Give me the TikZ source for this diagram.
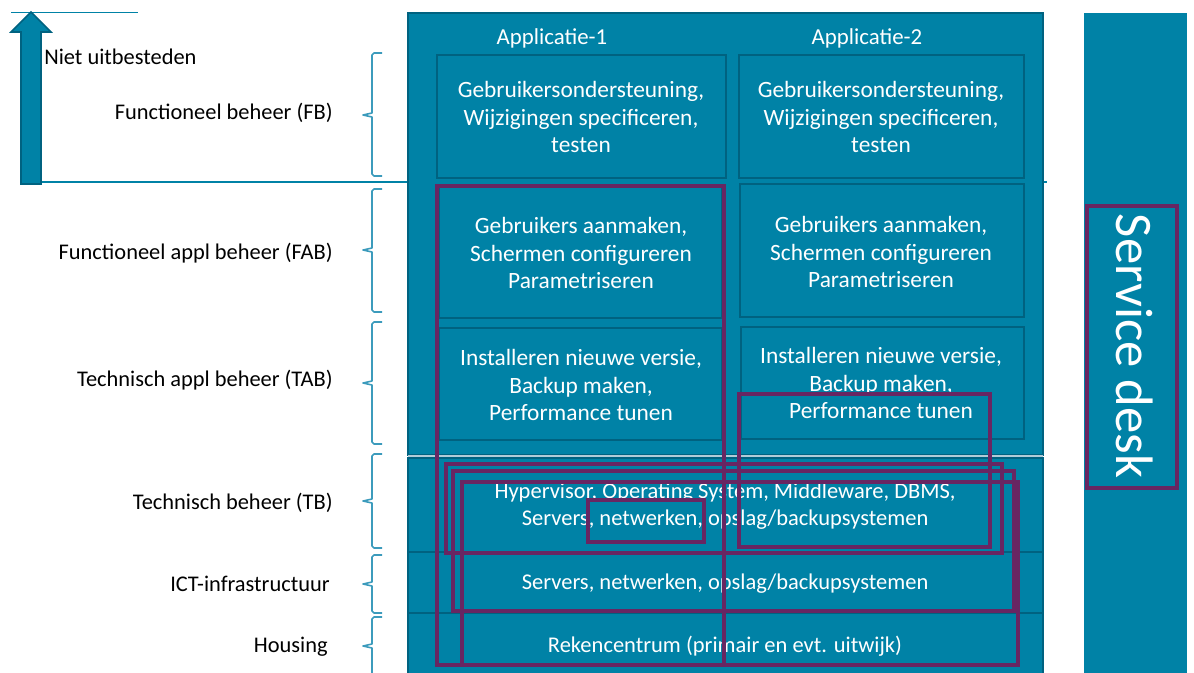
\documentclass[tikz,border=0pt]{standalone}
\usepackage{fontspec}
\setmainfont{Carlito}
\definecolor{tealf}{RGB}{0,130,166}
\definecolor{tealdk}{RGB}{0,98,128}
\definecolor{paars}{RGB}{104,38,98}
\definecolor{brc}{RGB}{60,155,188}
\definecolor{sepl}{RGB}{176,204,216}
\begin{document}
\begin{tikzpicture}[x=0.02cm,y=-0.02cm]
\tikzstyle{lbl}=[font=\fontsize{12.75}{15.9}\selectfont,inner sep=0pt]
\tikzstyle{txt}=[font=\fontsize{13.3}{15.9}\selectfont,text=white,align=center,inner sep=0pt]
\tikzstyle{rijtxt}=[txt,font=\fontsize{12.8}{15.4}\selectfont]
\tikzstyle{cel}=[draw=tealdk,line width=1.1pt]
\tikzstyle{rij}=[fill=tealf,draw=tealdk,line width=1.1pt]
\tikzstyle{pb}=[draw=paars,line width=2.7pt]
\tikzstyle{acc}=[draw=brc,line width=0.9pt,line join=round]
\useasboundingbox (0,0) rectangle (1194,673);
\draw[tealf,line width=0.8pt] (11,12.5) -- (138,12.5);
\draw[tealf,line width=0.8pt] (41,182) -- (1047,182);
\draw[fill=tealf,draw=tealdk,line width=0.9pt] (21,184) -- (21,32) -- (11,32) -- (31,12) -- (51,32) -- (41,32) -- (41,184) -- cycle;
\node[lbl,anchor=west] (niet) at (44,57) {Niet uitbesteden};
\node[lbl,anchor=east] (fb) at (333,113) {Functioneel beheer (FB)};
\node[lbl,anchor=east] (fab) at (333,253) {Functioneel appl beheer (FAB)};
\node[lbl,anchor=east] (tab) at (333,380) {Technisch appl beheer (TAB)};
\node[lbl,anchor=east] (tb) at (333,503) {Technisch beheer (TB)};
\node[lbl,anchor=east] (ict) at (330,584) {ICT-infrastructuur};
\node[lbl,anchor=east] (hs) at (328,647) {Housing};
\foreach \ya/\ym/\yb in {53/115/176, 189/250/312, 322/383/444, 454/501/548, 555/584/613, 617/646/675}
  \draw[acc] (382,\ya) -- (374,\ya) -- (372,\ya+2) -- (372,\ym-2) -- (363,\ym) -- (372,\ym+2) -- (372,\yb-2) -- (374,\yb) -- (382,\yb);
\draw[rij] (408,13) rectangle (1043,455);
\draw[sepl,line width=1.2pt] (408,456.5) -- (1043,456.5);
\draw[rij] (408,458) rectangle (1043,552);
\draw[rij] (408,552) rectangle (1043,613);
\draw[rij] (408,613) rectangle (1043,680);
\node[txt,font=\fontsize{13}{15.9}\selectfont] (app1) at (552,38) {Applicatie-1};
\node[txt,font=\fontsize{13}{15.9}\selectfont] (app2) at (867,38) {Applicatie-2};
\draw[cel] (437,55) rectangle (726,178);
\draw[cel] (739,55) rectangle (1024,178);
\draw[cel] (439,185) rectangle (722,318);
\draw[cel] (740,184) rectangle (1024,317);
\draw[cel] (439,328) rectangle (722,440);
\draw[cel] (741,327) rectangle (1024,439);
\node[txt] (fb1) at (581,117) {Gebruikersondersteuning,\\Wijzigingen specificeren,\\testen};
\node[txt] (fb2) at (881,117) {Gebruikersondersteuning,\\Wijzigingen specificeren,\\testen};
\node[txt] (fab1) at (581,253) {Gebruikers aanmaken,\\Schermen configureren\\Parametriseren};
\node[txt] (fab2) at (881,252) {Gebruikers aanmaken,\\Schermen configureren\\Parametriseren};
\node[txt] (tab1) at (581,385) {Installeren nieuwe versie,\\Backup maken,\\Performance tunen};
\node[txt] (tab2) at (881,383) {Installeren nieuwe versie,\\Backup maken,\\Performance tunen};
\node[rijtxt] (tb1) at (725,506) {Hypervisor, Operating System, Middleware, DBMS,\\Servers, netwerken, opslag/backupsystemen};
\node[rijtxt] (ict1) at (725,584) {Servers, netwerken, opslag/backupsystemen};
\node[rijtxt] (hs1) at (725,646) {Rekencentrum (primair en evt. uitwijk)};
\draw[pb] (437,186) rectangle (724,665);
\draw[pb] (739,394) rectangle (990,547);
\draw[pb] (446,464) rectangle (1002,553);
\draw[pb] (453,471) rectangle (1014,611);
\draw[pb] (462,482) rectangle (1018,665);
\draw[pb] (588,500) rectangle (704,542);
\fill[tealf] (1084,13) rectangle (1187,680);
\node[txt,font=\fontsize{30}{36}\selectfont,rotate=-90] (sd) at (1135,346) {Service desk};
\draw[pb] (1087,206) rectangle (1177,488);
\end{tikzpicture}
\end{document}
